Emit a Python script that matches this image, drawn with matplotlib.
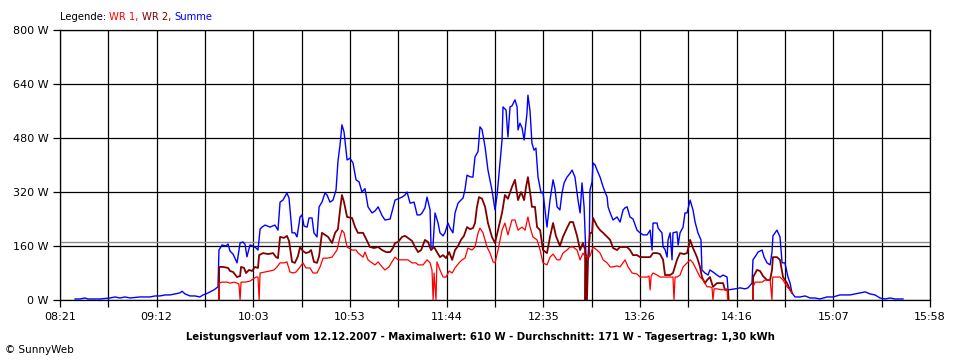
import matplotlib
matplotlib.use("Agg")
import matplotlib.pyplot as plt
import numpy as np

nan = float("nan")

# time in minutes after midnight, power in W
summe_t = [508.9, 511.5, 514.1, 515.7, 522.0, 527.3, 529.9, 532.5, 535.1, 537.8, 543.0, 548.3, 550.9,
           553.5, 556.2, 558.8, 561.4, 564.0, 565.1, 566.7, 569.3, 571.9, 574.5, 576.1, 577.7, 579.8,
           581.9, 584.0, 584.5, 586.1, 588.2, 589.3, 590.3, 591.9, 594.0, 595.6, 597.1, 598.2, 599.2,
           600.8, 602.4, 604.0, 605.0, 606.1, 607.1, 608.7, 611.3, 613.9, 615.5, 616.6, 618.1, 620.2,
           621.3, 622.9, 624.4, 625.5, 627.1, 628.1, 629.2, 630.8, 631.8, 633.4, 634.4, 636.0, 637.1,
           638.6, 640.2, 641.3, 642.8, 644.4, 646.0, 647.0, 648.1, 649.1, 650.2, 651.8, 653.3, 654.9,
           656.5, 658.1, 659.6, 661.2, 662.8, 664.9, 666.5, 668.1, 670.2, 671.7, 674.4, 677.0, 678.6,
           680.7, 682.2, 683.3, 684.9, 687.0, 688.6, 690.1, 691.2, 692.7, 693.8, 695.4, 695.9, 696.9,
           698.0, 699.6, 700.6, 702.2, 703.2, 704.8, 705.9, 707.4, 708.5, 710.1, 711.6, 712.7, 713.7,
           714.8, 716.4, 717.9, 719.0, 720.6, 721.6, 722.7, 724.3, 725.8, 727.9, 729.5, 730.6, 732.1,
           733.2, 733.7, 735.3, 736.3, 737.4, 738.4, 740.0, 741.1, 741.6, 742.6, 743.7, 744.8, 746.3,
           746.8, 747.9, 748.9, 750.0, 751.0, 752.1, 753.7, 754.7, 756.8, 758.4, 760.0, 761.0, 762.1,
           763.6, 764.7, 765.8, 767.3, 768.9, 770.0, 771.5, 773.1, 774.2, 775.2, 776.3, 777.3, 778.9,
           779.4, 780.5, 781.0, 782.1, 783.1, 784.7, 786.3, 787.3, 788.4, 788.9, 790.0, 791.5, 793.6,
           795.2, 796.8, 797.8, 798.9, 800.4, 802.0, 804.1, 805.7, 807.3, 809.4, 811.0, 812.0, 812.5,
           814.6, 815.2, 817.2, 817.8, 818.8, 819.9, 820.4, 821.5, 822.5, 823.0, 825.1, 825.7, 826.7,
           828.3, 829.3, 830.4, 832.0, 833.5, 834.6, 836.1, 837.7, 838.2, 839.8, 841.4, 842.4, 844.0,
           846.1, 847.7, 849.3, 851.4, 851.9, 855.6, 858.2, 860.8, 862.4, 864.5, 865.0, 866.1, 867.7,
           869.8, 870.8, 872.4, 874.0, 875.0, 875.5, 876.6, 877.6, 879.2, 880.3, 881.8, 883.4, 884.5,
           885.5, 887.1, 889.7, 892.4, 895.0, 897.6, 900.2, 903.9, 907.1, 910.7, 916.0, 918.6, 921.2,
           923.9, 926.5, 929.1, 931.7, 934.4, 937.0, 939.6, 943.8]
summe_w = [3, 3, 6, 3, 3, 6, 9, 6, 9, 6, 9, 9, 12,
           12, 15, 15, 18, 21, 26, 18, 12, 12, 9, 15, 18, 24,
           30, 39, 148, 163, 160, 166, 145, 136, 110, 169, 172, 165, 128,
           163, 160, 154, 148, 210, 216, 222, 216, 222, 207, 290, 296, 317,
           302, 199, 199, 187, 246, 252, 219, 216, 243, 243, 199, 187, 276,
           290, 317, 311, 290, 296, 326, 410, 460, 519, 498, 415, 420, 406,
           356, 350, 320, 330, 276, 258, 264, 276, 250, 237, 240, 296, 300,
           305, 311, 320, 287, 290, 252, 252, 258, 273, 305, 267, 157, 157,
           258, 228, 199, 190, 199, 228, 213, 199, 258, 287, 296, 302, 326,
           370, 365, 364, 424, 440, 513, 505, 453, 385, 326, 267, 311, 406,
           474, 572, 563, 483, 572, 575, 593, 572, 504, 524, 510, 474, 554,
           607, 560, 465, 444, 450, 364, 317, 320, 216, 296, 356, 330, 276,
           267, 317, 347, 364, 375, 385, 364, 296, 258, 347, 276, 127, 127,
           326, 350, 406, 400, 385, 364, 335, 320, 305, 276, 258, 237, 246,
           231, 267, 273, 276, 246, 240, 207, 199, 193, 193, 207, 148, 228,
           228, 213, 199, 157, 150, 127, 178, 199, 119, 199, 202, 163, 199,
           216, 258, 258, 296, 267, 231, 199, 178, 89, 80, 74, 89, 83,
           74, 68, 74, 68, 30, 33, 36, 33, 36, 50, 119, 128, 142,
           148, 128, 110, 104, 142, 190, 199, 207, 187, 110, 110, 68, 50,
           21, 9, 9, 12, 6, 6, 3, 9, 9, 15, 15, 18, 21,
           24, 18, 15, 6, 3, 6, 3, 3]

wr2_t = [584.5, 584.6, 586.6, 589.3, 590.3, 591.9, 594.0, 595.6, 596.1, 597.7, 598.7, 600.3, 601.9,
         603.4, 605.0, 605.6, 607.7, 610.3, 612.9, 614.5, 615.5, 616.6, 618.7, 620.2, 621.3, 622.9,
         624.4, 626.0, 627.1, 628.6, 630.2, 631.8, 632.9, 634.4, 636.0, 637.1, 638.6, 640.2, 641.8,
         643.9, 645.5, 647.0, 648.1, 649.1, 650.2, 651.8, 654.4, 656.0, 657.5, 660.2, 662.3, 663.8,
         666.0, 668.1, 670.2, 672.3, 674.4, 675.9, 677.0, 678.6, 680.7, 682.2, 683.8, 685.9, 687.5,
         689.1, 690.7, 692.7, 694.3, 695.9, 697.5, 699.0, 700.6, 702.2, 703.8, 705.4, 707.0, 708.5,
         710.1, 711.6, 713.2, 714.8, 716.4, 717.9, 719.0, 720.0, 721.1, 722.7, 724.3, 725.8, 727.9,
         729.5, 731.1, 733.2, 734.7, 736.3, 738.4, 740.0, 741.6, 743.2, 744.8, 745.8, 746.8, 747.9,
         748.9, 750.5, 751.6, 753.2, 754.7, 756.8, 758.4, 760.0, 761.5, 763.6, 765.2, 767.3, 768.9,
         770.5, 772.6, 774.2, 775.7, 776.8, 777.0, 777.3, 777.8, 778.4, 779.4, 780.5, 781.0, 783.1,
         784.7, 786.3, 788.4, 790.0, 791.5, 793.6, 795.2, 796.8, 798.9, 800.4, 802.0, 804.1, 805.7,
         808.3, 811.0, 812.5, 814.6, 816.2, 817.8, 818.8, 821.5, 823.0, 825.1, 826.7, 828.8, 830.4,
         832.0, 833.5, 835.6, 837.2, 838.2, 839.8, 840.9, 842.4, 844.0, 846.1, 847.7, 849.3, 850.3,
         851.9, 852.2, 858.0, 865.0, 865.1, 867.1, 868.7, 870.3, 872.4, 874.0, 875.0, 875.5, 877.6,
         879.2, 880.8, 882.9, 884.5, 885.5]
wr2_w = [0, 98, 98, 95, 86, 83, 68, 71, 98, 95, 80, 89, 86,
         98, 95, 133, 139, 136, 139, 127, 124, 187, 184, 190, 175, 113,
         110, 130, 157, 145, 139, 142, 148, 113, 110, 130, 199, 193, 187,
         169, 199, 210, 267, 311, 290, 246, 243, 216, 199, 199, 175, 157,
         154, 157, 148, 142, 142, 154, 169, 172, 187, 190, 184, 175, 157,
         142, 148, 178, 172, 148, 157, 142, 127, 133, 124, 142, 119, 148,
         160, 178, 190, 216, 210, 213, 228, 275, 305, 300, 276, 228, 187,
         169, 207, 258, 311, 300, 335, 356, 296, 320, 296, 335, 364, 320,
         276, 276, 216, 207, 148, 139, 187, 228, 190, 160, 187, 213, 231,
         231, 190, 148, 169, 150, 0, 133, 0, 127, 199, 199, 243, 219,
         207, 199, 187, 178, 154, 148, 157, 157, 157, 148, 133, 133, 127,
         127, 127, 139, 139, 136, 119, 74, 74, 80, 119, 139, 136, 139,
         178, 154, 127, 98, 68, 50, 59, 68, 39, 50, 50, 50, 30,
         30, 0, nan, 0, 68, 89, 86, 71, 59, 59, 89, 127, 127,
         119, 68, 50, 30, 21]

wr1_t = [584.5, 584.6, 586.1, 588.7, 590.3, 592.4, 594.0, 595.0, 595.6, 596.1, 598.2, 600.8, 602.4,
         604.0, 605.0, 605.6, 606.1, 608.7, 611.3, 613.4, 615.0, 616.6, 618.7, 620.2, 621.8, 623.4,
         625.0, 627.1, 628.6, 630.2, 632.3, 633.9, 636.0, 637.6, 639.2, 641.3, 643.9, 646.5, 648.1,
         649.1, 650.2, 651.8, 654.4, 656.5, 657.6, 660.2, 661.2, 662.8, 664.9, 666.5, 668.1, 670.2,
         671.7, 673.8, 675.4, 677.0, 678.6, 681.2, 683.8, 685.9, 688.0, 689.1, 691.7, 693.8, 695.4,
         696.4, 697.0, 697.5, 698.5, 699.0, 700.6, 702.2, 703.8, 705.4, 707.0, 708.5, 710.6, 712.2,
         713.7, 715.3, 717.4, 719.0, 720.6, 721.6, 723.2, 725.3, 726.9, 728.5, 729.5, 731.1, 733.2,
         734.7, 736.3, 738.4, 740.0, 741.6, 743.7, 745.3, 746.8, 747.9, 749.4, 751.6, 753.2, 754.7,
         756.8, 758.4, 760.0, 762.1, 763.6, 765.2, 767.3, 768.9, 770.5, 772.6, 774.2, 775.7, 776.8,
         777.8, 779.4, 781.0, 783.1, 784.7, 786.3, 788.4, 790.0, 791.5, 793.6, 795.2, 797.8, 799.4,
         801.5, 804.1, 805.7, 809.4, 810.4, 811.0, 811.5, 812.5, 814.6, 816.2, 818.8, 823.0, 823.5,
         824.1, 825.1, 826.7, 828.3, 830.4, 832.0, 833.5, 835.6, 837.2, 838.8, 840.9, 842.4, 843.5,
         844.0, 844.6, 846.1, 848.8, 851.4, 851.7, 858.0, 865.0, 865.1, 866.1, 868.7, 869.8, 871.3,
         874.0, 875.0, 875.3, 875.5, 877.6, 879.2, 880.8, 882.9, 884.5, 885.5]
wr1_w = [0, 50, 53, 53, 50, 53, 50, 47, 0, 53, 53, 56, 62,
         68, 68, 0, 80, 83, 86, 89, 98, 110, 110, 113, 83, 80,
         83, 98, 110, 95, 95, 80, 80, 98, 124, 124, 127, 148, 187,
         207, 199, 157, 148, 148, 139, 127, 142, 119, 110, 104, 113, 98,
         89, 98, 113, 127, 119, 119, 119, 110, 110, 104, 104, 119, 110,
         89, 0, 80, 0, 113, 89, 68, 68, 86, 80, 95, 110, 119,
         124, 154, 148, 157, 199, 213, 199, 157, 139, 113, 110, 148, 207,
         228, 193, 237, 237, 207, 216, 207, 246, 216, 187, 178, 148, 110,
         104, 127, 136, 119, 119, 139, 148, 157, 157, 148, 119, 139, 130,
         127, 130, 157, 148, 139, 119, 110, 98, 98, 101, 98, 119, 98,
         80, 77, 68, 68, 71, 30, 71, 80, 74, 68, 68, 68, 0,
         68, 68, 74, 98, 110, 119, 110, 86, 68, 59, 39, 39, 36,
         0, 33, 33, 30, 33, 0, nan, 0, 39, 53, 53, 53, 59,
         59, 0, 62, 68, 68, 68, 59, 39, 30, 21]

durchschnitt = 171
y_ticks = [0, 160, 320, 480, 640, 800]
x_start, x_end = 501, 958  # 08:21 .. 15:58
x_labels = ["08:21", "09:12", "10:03", "10:53", "11:44", "12:35", "13:26", "14:16", "15:07", "15:58"]

fig = plt.figure(figsize=(9.6, 3.6), dpi=100)
ax = fig.add_axes([60 / 960, 60 / 360, 870 / 960, 270 / 360])

ax.plot(summe_t, summe_w, color="#0000ff", lw=1.0, zorder=3)
ax.plot(wr2_t, wr2_w, color="#800000", lw=1.3, zorder=4)
ax.plot(wr1_t, wr1_w, color="#ff0000", lw=0.9, zorder=5)
ax.axhline(durchschnitt, color="#8c8c8c", lw=1.0, zorder=2)

ax.set_xlim(x_start, x_end)
ax.set_ylim(0, 800)
xt = np.linspace(x_start, x_end, 19)
ax.set_xticks(xt)
ax.set_xticklabels([x_labels[i // 2] if i % 2 == 0 else "" for i in range(19)])
ax.set_yticks(y_ticks)
ax.set_yticklabels([f"{v} W" for v in y_ticks])
ax.grid(True, color="black", lw=0.9, zorder=1)
ax.set_axisbelow(True)
for s in ax.spines.values():
    s.set_color("black")
    s.set_linewidth(0.9)
ax.tick_params(axis="both", direction="out", length=5, width=0.9, labelsize=8, pad=3)
ax.tick_params(axis="x", pad=4)

fig.text(0.5, 1 - 337 / 360, "Leistungsverlauf vom 12.12.2007 - Maximalwert: 610 W - Durchschnitt: 171 W - Tagesertrag: 1,30 kWh",
         ha="center", va="center", fontsize=7.3, fontweight="bold")
fig.text(5 / 960, 1 - 350 / 360, "\u00a9 SunnyWeb", ha="left", va="center", fontsize=7.5)

# legend as coloured text pieces
fig.canvas.draw()
r = fig.canvas.get_renderer()
x = 60 / 960
for txt, col in [("Legende: ", "black"), ("WR 1, ", "#ff0000"), ("WR 2, ", "#800000"), ("Summe", "#0000ff")]:
    t = fig.text(x, 1 - 17 / 360, txt, color=col, fontsize=7.2, ha="left", va="center")
    bb = t.get_window_extent(renderer=r)
    x += bb.width / 960

fig.savefig("out.png", dpi=100)
